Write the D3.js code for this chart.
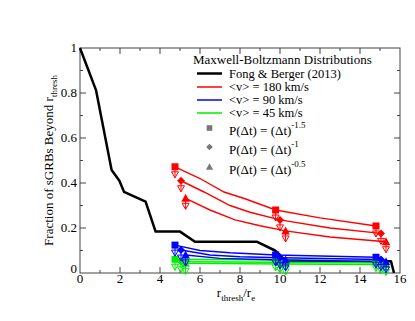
<!DOCTYPE html>
<html>
<head>
<meta charset="utf-8">
<script src="https://cdn.jsdelivr.net/npm/d3@7"></script>
<style>
  body { margin: 0; background: #fff; }
  svg text { font-family: "Liberation Serif", "DejaVu Serif", serif; }
</style>
</head>
<body>
<div id="container"></div>
<script>
const WIDTH = 415,
      HEIGHT = 321;

const margin = { top: 48, bottom: 48, left: 80, right: 15 };

const width = WIDTH - margin.left - margin.right,
      height = HEIGHT - margin.top - margin.bottom;

// Fong & Berger (2013)
const fongX = [0, 0.8, 1.58, 1.97, 2.2, 3.28, 3.78, 5.0, 5.75, 8.83, 9.75, 10.0, 10.3, 15.55, 15.7];
const fongY = [1, 0.813, 0.458, 0.41, 0.361, 0.317, 0.184, 0.184, 0.139, 0.139, 0.1, 0.08, 0.052, 0.052, 0];

// model curves, one per P(dt) law: [-1.5, -1, -0.5]
const v180X = [[4.75, 6, 7.2, 8.25, 9.78, 12, 14.8],
               [5.05, 6.2, 7.5, 8.5, 10.0, 12.5, 15.05],
               [5.28, 6.5, 7.75, 9, 10.28, 12.5, 15.3]];
const v180Y = [[0.472, 0.42, 0.36, 0.33, 0.28, 0.245, 0.209],
               [0.41, 0.36, 0.30, 0.27, 0.236, 0.2, 0.176],
               [0.332, 0.28, 0.236, 0.21, 0.187, 0.16, 0.139]];

const v90X = [[4.75, 6, 7.5, 9.78, 14.8],
              [5.05, 6.5, 8, 10.0, 15.05],
              [5.28, 7, 10.28, 15.3]];
const v90Y = [[0.124, 0.1, 0.09, 0.08, 0.07],
              [0.102, 0.08, 0.072, 0.068, 0.06],
              [0.08, 0.065, 0.058, 0.05]];

const v45X = [[4.75, 9.78, 14.8],
              [5.05, 10.0, 15.05],
              [5.28, 10.28, 15.3]];
const v45Y = [[0.061, 0.058, 0.055],
              [0.05, 0.048, 0.045],
              [0.043, 0.04, 0.038]];

// markers (upper limits) sit at the first, middle and last point of each curve
const markerIdx180 = [[0, 4, 6], [0, 4, 6], [0, 4, 6]];
const markerIdx90 = [[0, 3, 4], [0, 3, 4], [0, 2, 3]];
const markerIdx45 = [[0, 1, 2], [0, 1, 2], [0, 1, 2]];

const xTicks = [0, 2, 4, 6, 8, 10, 12, 14, 16];
const yTicks = [0, 0.2, 0.4, 0.6, 0.8, 1];
const yTickLabels = ["0", "0.2", "0.4", "0.6", "0.8", "1"];

const legendLines = ["Fong & Berger (2013)", "<v> = 180 km/s", "<v> = 90 km/s", "<v> = 45 km/s"];
const legendExps = ["-1.5", "-1", "-0.5"];
const shapes = ["square", "diamond", "triangle"];

const FONT = "'Liberation Serif', 'DejaVu Serif', serif";

const svg = d3.select('#container').append('svg')
    .attr("width", WIDTH).attr("height", HEIGHT)
    .attr("font-family", FONT);

const xScale = d3.scaleLinear().domain([0, 16]).range([0, width]);
const yScale = d3.scaleLinear().domain([0, 1]).range([height, 0]);

const container = svg.append('g')
    .attr("transform", `translate(${margin.left}, ${margin.top})`);

// frame + ticks (inward, all four sides)
const frameColor = "#444";
container.append("rect")
    .attr("width", width).attr("height", height)
    .attr("fill", "none").attr("stroke", frameColor).attr("stroke-width", 1);

const xMinor = d3.range(1, 16, 2);
const yMinor = d3.range(0.1, 1, 0.2);

const tickG = container.append("g").attr("stroke", frameColor).attr("stroke-width", 1);
const xt = xTicks.slice(1, -1).map(v => [v, 6]).concat(xMinor.map(v => [v, 3]));
xt.forEach(([v, len]) => {
    tickG.append("line").attr("x1", xScale(v)).attr("x2", xScale(v))
        .attr("y1", height).attr("y2", height - len);
    tickG.append("line").attr("x1", xScale(v)).attr("x2", xScale(v))
        .attr("y1", 0).attr("y2", len);
});
const yt = yTicks.slice(1, -1).map(v => [v, 6]).concat(yMinor.map(v => [v, 3]));
yt.forEach(([v, len]) => {
    tickG.append("line").attr("y1", yScale(v)).attr("y2", yScale(v))
        .attr("x1", 0).attr("x2", len);
    tickG.append("line").attr("y1", yScale(v)).attr("y2", yScale(v))
        .attr("x1", width).attr("x2", width - len);
});

// tick labels
container.selectAll(".xlab").data(xTicks).join("text")
    .attr("x", d => xScale(d)).attr("y", height + 10)
    .attr("text-anchor", "middle").attr("font-size", 13)
    .text(d => d);
container.selectAll(".ylab").data(yTicks).join("text")
    .attr("x", -3).attr("y", d => yScale(d) + 4 - (d === 0 ? 4 : 0))
    .attr("text-anchor", "end").attr("font-size", 13)
    .text((d, i) => yTickLabels[i]);

// axis titles
const xt1 = container.append("text")
    .attr("x", width / 2 - 4).attr("y", height + 24)
    .attr("text-anchor", "middle").attr("font-size", 13);
xt1.append("tspan").text("r");
xt1.append("tspan").attr("font-size", 9).attr("dy", 4).text("thresh");
xt1.append("tspan").attr("dy", -4).text("/r");
xt1.append("tspan").attr("font-size", 9).attr("dy", 4).text("e");

const yt1 = svg.append("text")
    .attr("transform", `translate(${margin.left - 27}, ${margin.top + height / 2}) rotate(-90)`)
    .attr("text-anchor", "middle").attr("font-size", 13);
yt1.append("tspan").text("Fraction of sGRBs Beyond r");
yt1.append("tspan").attr("font-size", 9).attr("dy", 4).text("thresh");

const line = d3.line().x(d => xScale(d[0])).y(d => yScale(d[1]));

// Fong & Berger
container.append("path")
    .datum(d3.zip(fongX, fongY))
    .attr("d", line)
    .attr("fill", "none").attr("stroke", "#000").attr("stroke-width", 2.5)
    .attr("stroke-linejoin", "round");

const groups = [
    { xs: v45X, ys: v45Y, idx: markerIdx45, color: "#00ee00" },
    { xs: v90X, ys: v90Y, idx: markerIdx90, color: "#0000ff" },
    { xs: v180X, ys: v180Y, idx: markerIdx180, color: "#ff0000" },
];

const symbolPath = (shape, s) => {
    if (shape === "square") return `M${-s},${-s}H${s}V${s}H${-s}Z`;
    if (shape === "diamond") return `M0,${-s - 0.5}L${s + 0.5},0L0,${s + 0.5}L${-s - 0.5},0Z`;
    return `M0,${-s - 1}L${s + 0.8},${s}L${-s - 0.8},${s}Z`;
};

groups.forEach(g => {
    g.xs.forEach((xs, k) => {
        container.append("path")
            .datum(d3.zip(xs, g.ys[k]))
            .attr("d", line)
            .attr("fill", "none").attr("stroke", g.color).attr("stroke-width", 1.4);
    });
});

groups.forEach(g => {
    g.xs.forEach((xs, k) => {
        g.idx[k].forEach(i => {
            const px = xScale(xs[i]), py = yScale(g.ys[k][i]);
            const m = container.append("g").attr("transform", `translate(${px},${py})`);
            // upper-limit arrow
            m.append("path")
                .attr("d", "M0,0V11M-3.5,5L0,11L3.5,5Z")
                .attr("fill", "none").attr("stroke", g.color).attr("stroke-width", 1);
            m.append("path")
                .attr("d", symbolPath(shapes[k], 3.5))
                .attr("fill", g.color);
        });
    });
});

// legend
const legend = svg.append("g");
legend.append("text").attr("x", 193).attr("y", 64).attr("font-size", 13)
    .text("Maxwell-Boltzmann Distributions");
const legendColors = ["#000", "#ff0000", "#0000ff", "#00ee00"];
const legendY = [73.5, 87, 100, 113];
legendLines.forEach((t, i) => {
    legend.append("line").attr("x1", 197).attr("x2", 222)
        .attr("y1", legendY[i]).attr("y2", legendY[i])
        .attr("stroke", legendColors[i]).attr("stroke-width", i === 0 ? 2.5 : 1.5);
    legend.append("text").attr("x", 229).attr("y", legendY[i] + 4)
        .attr("font-size", 12.5).text(t);
});
const legSymY = [130, 149, 169];
legendExps.forEach((e, i) => {
    legend.append("path")
        .attr("transform", `translate(209.5,${legSymY[i] - 2})`)
        .attr("d", symbolPath(shapes[i], 2.8))
        .attr("fill", "#777");
    const t = legend.append("text").attr("x", 229).attr("y", legSymY[i] + 5)
        .attr("font-size", 13);
    t.append("tspan").text("P(\u0394t) = (\u0394t)");
    t.append("tspan").attr("font-size", 9).attr("dy", -7).text(e);
});
</script>
</body>
</html>
